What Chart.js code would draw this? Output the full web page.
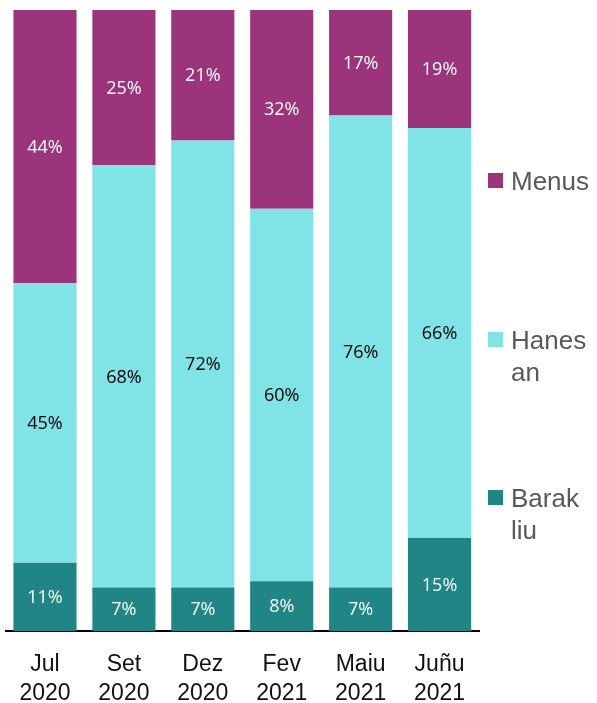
<!DOCTYPE html>
<html>
<head>
<meta charset="utf-8">
<script src="https://cdn.jsdelivr.net/npm/chart.js@4"></script>
<style>
    html, body { margin: 0; padding: 0; background: #fff; overflow: hidden; }
    #wrap { position: relative; width: 597px; height: 703px; overflow: hidden; }
    .legend-item { position: absolute; left: 488px; font-family: 'Liberation Sans', sans-serif; font-size: 26px; line-height: 32px; color: #595959; }
    .legend-item .box { position: absolute; left: 0; width: 15px; height: 15px; }
    .legend-item .txt { position: absolute; left: 23px; white-space: nowrap; }
</style>
</head>
<body>
<div id="wrap">
    <canvas id="chart" width="597" height="727"></canvas>
</div>
<script>
const categories = [['Jul', '2020'], ['Set', '2020'], ['Dez', '2020'], ['Fev', '2021'], ['Maiu', '2021'], ['Juñu', '2021']];
const barakLiu = [11, 7, 7, 8, 7, 15];
const hanesAn = [45, 68, 72, 60, 76, 66];
const menus = [44, 25, 21, 32, 17, 19];

const colors = {
    menus: '#9b347a',
    hanes: '#80e3e6',
    barak: '#1f8585'
};

// labels written into the middle of every segment
const segmentLabels = {
    id: 'segmentLabels',
    afterDatasetsDraw(chart) {
        const ctx = chart.ctx;
        ctx.save();
        ctx.font = '18px "Open Sans", sans-serif';
        ctx.textAlign = 'center';
        ctx.textBaseline = 'middle';
        chart.data.datasets.forEach((dataset, i) => {
            const meta = chart.getDatasetMeta(i);
            meta.data.forEach((bar, j) => {
                const mid = (bar.y + bar.base) / 2;
                ctx.fillStyle = dataset.labelColor;
                ctx.fillText(dataset.data[j] + '%', bar.x, mid + 1);
            });
        });
        ctx.restore();
    }
};

new Chart(document.getElementById('chart'), {
    type: 'bar',
    data: {
        labels: categories,
        datasets: [
            { label: 'Barak liu', data: barakLiu, backgroundColor: colors.barak, labelColor: '#ffffff' },
            { label: 'Hanes an', data: hanesAn, backgroundColor: colors.hanes, labelColor: '#000000' },
            { label: 'Menus', data: menus, backgroundColor: colors.menus, labelColor: '#ffffff' }
        ]
    },
    options: {
        responsive: false,
        animation: false,
        events: [],
        layout: { padding: { top: 10, left: 5, right: 118, bottom: 0 } },
        datasets: {
            bar: { barPercentage: 0.8, categoryPercentage: 1, borderWidth: 0 }
        },
        plugins: {
            legend: { display: false },
            tooltip: { enabled: false }
        },
        scales: {
            x: {
                stacked: true,
                grid: { display: true, drawOnChartArea: false, drawTicks: false },
                border: { display: true, color: '#000', width: 2 },
                ticks: {
                    color: '#111',
                    padding: 19,
                    font: { family: "'Liberation Sans', sans-serif", size: 23, lineHeight: 1.26 }
                }
            },
            y: {
                stacked: true,
                display: false,
                min: 0,
                max: 100
            }
        }
    },
    plugins: [segmentLabels]
});

// legend, top to bottom as in the original
const legendEntries = [
    { lines: ['Menus'], color: colors.menus, top: 165 },
    { lines: ['Hanes', 'an'], color: colors.hanes, top: 324 },
    { lines: ['Barak', 'liu'], color: colors.barak, top: 482 }
];
const wrap = document.getElementById('wrap');
legendEntries.forEach(entry => {
    const item = document.createElement('div');
    item.className = 'legend-item';
    item.style.top = entry.top + 'px';
    item.innerHTML = `<div class="box" style="background:${entry.color};top:8px"></div><div class="txt">${entry.lines.join('<br>')}</div>`;
    wrap.appendChild(item);
});
</script>
</body>
</html>
